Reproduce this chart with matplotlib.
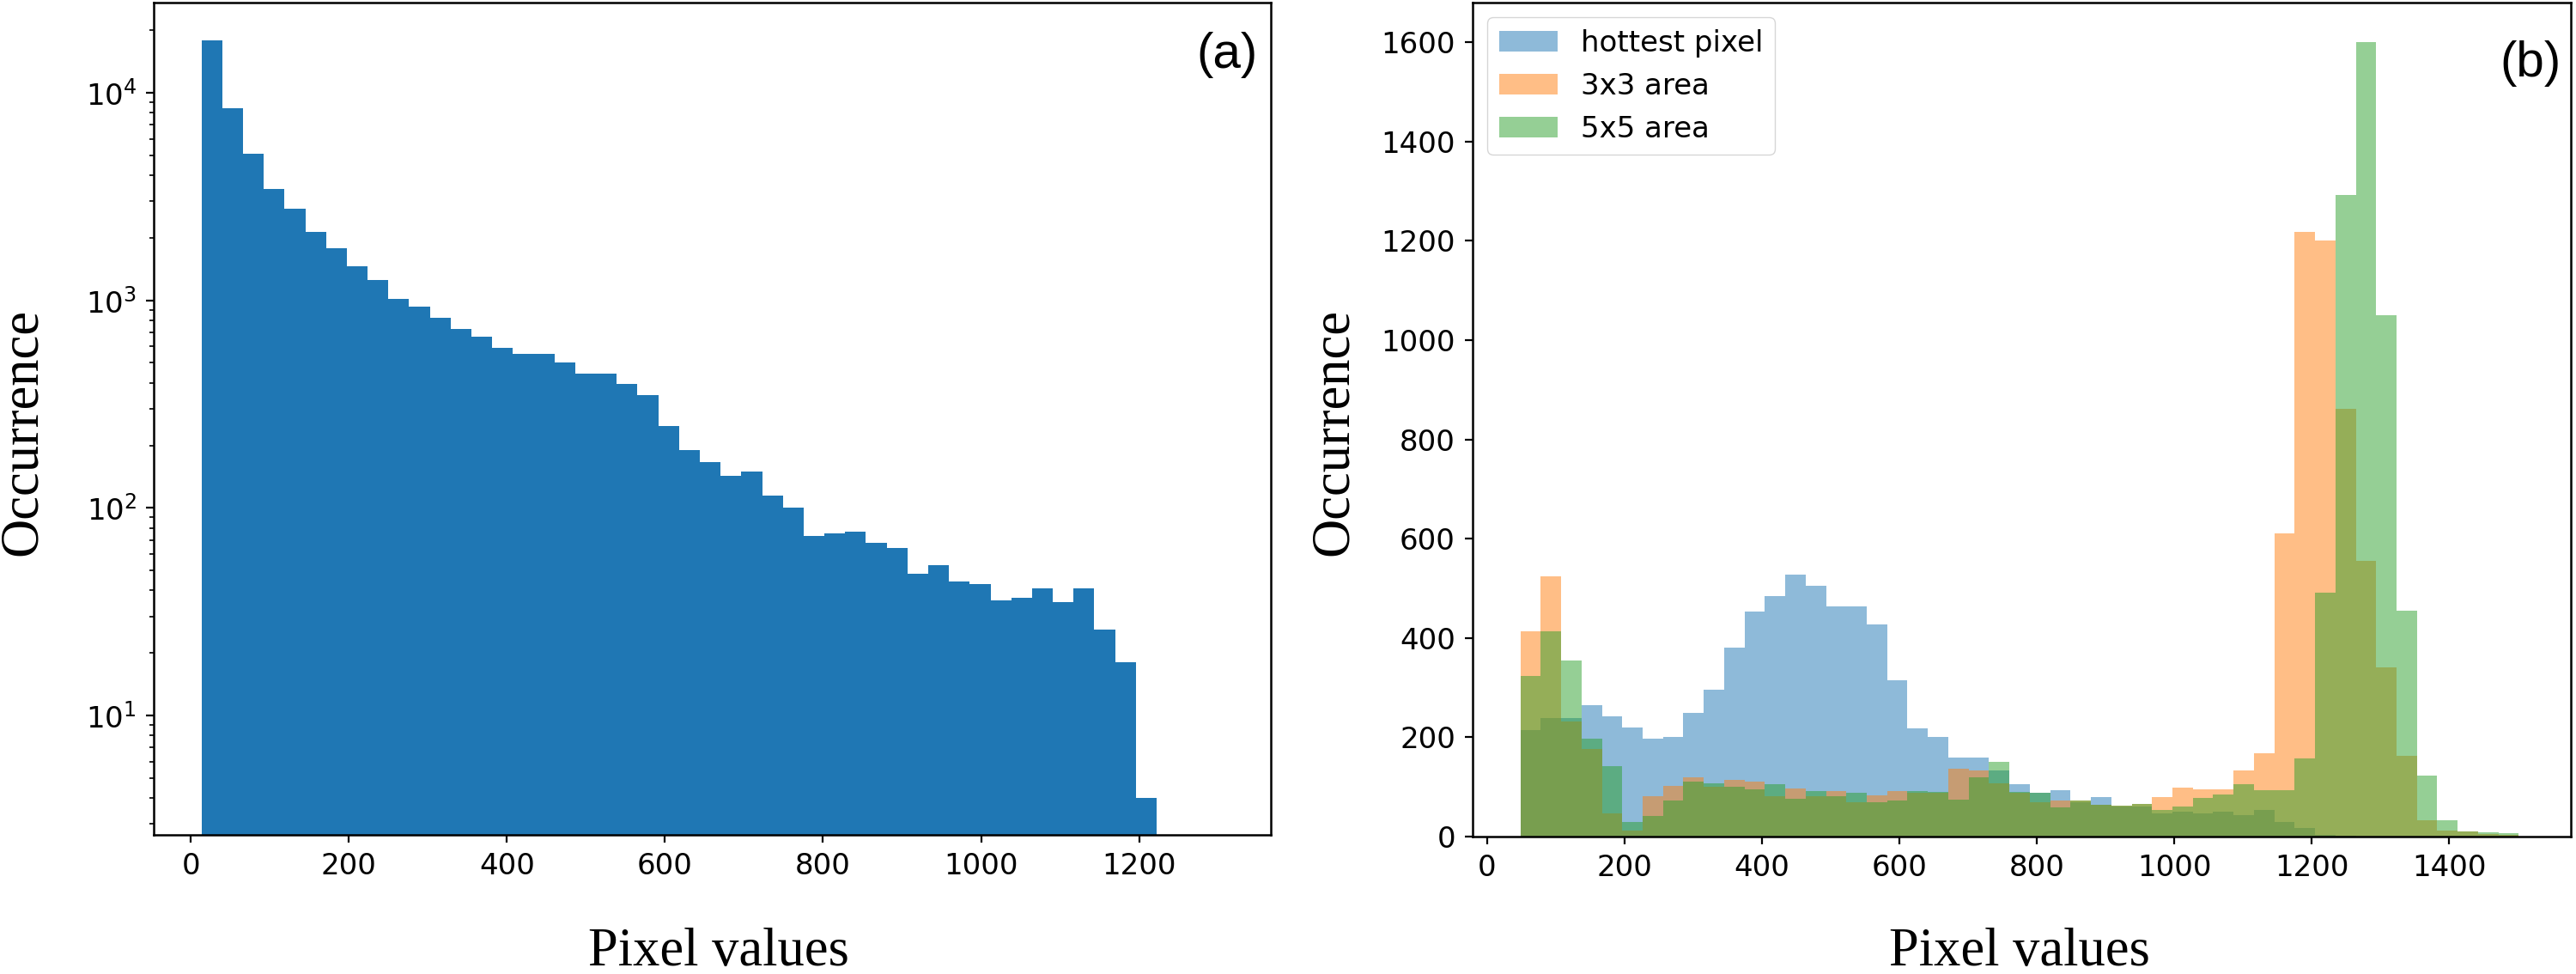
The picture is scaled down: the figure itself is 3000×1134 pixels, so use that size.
import numpy as np
import matplotlib.pyplot as plt

# panel (a): log histogram of pixel values
a_first_edge = 13.4
a_bin_width = 26.28
a_counts = [17800, 8400, 5090, 3430, 2750, 2135, 1782, 1460, 1255, 1012,
            930, 824, 726, 668, 592, 554, 554, 504, 442, 442,
            396, 351, 248, 189, 166, 143, 150, 115, 100, 73,
            75, 77, 68, 64, 48, 53, 44, 43, 36, 37,
            41, 35, 41, 26, 18, 4]

# panel (b): three overlaid histograms on common bins
b_first_edge = 48.4
b_bin_width = 29.65
hottest = [215, 238, 238, 265, 242, 219, 197, 200, 249, 295,
           381, 453, 485, 527, 505, 464, 464, 428, 314, 218,
           200, 159, 160, 134, 106, 88, 93, 70, 79, 60,
           60, 47, 50, 47, 50, 44, 53, 30, 18, 4,
           1, 0, 0, 0, 0, 0, 0, 0, 0]
area3 = [414, 524, 232, 177, 47, 12, 82, 102, 119, 101,
         114, 110, 81, 97, 81, 92, 70, 83, 92, 88,
         88, 137, 134, 108, 88, 70, 73, 72, 64, 62,
         66, 79, 98, 96, 96, 133, 168, 610, 1218, 1201,
         861, 555, 341, 162, 33, 12, 10, 5, 3]
area5 = [323, 414, 355, 197, 142, 30, 41, 73, 110, 107,
         100, 96, 106, 76, 92, 82, 88, 70, 73, 92,
         90, 75, 119, 151, 90, 88, 59, 73, 64, 62,
         66, 53, 60, 77, 85, 105, 93, 93, 157, 492,
         1292, 1601, 1050, 455, 123, 33, 11, 8, 7]
b_labels = ['hottest pixel', '3x3 area', '5x5 area']

a_edges = a_first_edge + a_bin_width*np.arange(len(a_counts)+1)
b_edges = b_first_edge + b_bin_width*np.arange(len(hottest)+1)

tick_fs = 24.5
label_font = 'Liberation Serif'

fig = plt.figure(figsize=(30, 11.34), dpi=100)
ax1 = fig.add_axes([0.0597, 0.1429, 0.4337, 0.8545])
ax2 = fig.add_axes([0.5717, 0.1411, 0.4263, 0.8563])

ax1.hist(a_edges[:-1], bins=a_edges, weights=a_counts, color='tab:blue', log=True)
ax1.set_yscale('log')
ax1.set_ylim(2.66, 27200)
ax1.set_xlim(-47, 1367)
ax1.set_xticks(np.arange(0, 1201, 200))
ax1.text(0.988, 0.965, '(a)', transform=ax1.transAxes, ha='right', va='top',
         fontsize=42, family='Liberation Sans')

colors = ['tab:blue', 'tab:orange', 'tab:green']
for vals, lab, c in zip([hottest, area3, area5], b_labels, colors):
    ax2.hist(b_edges[:-1], bins=b_edges, weights=vals, color=c, alpha=0.5, label=lab)
ax2.set_xlim(-21, 1577)
ax2.set_ylim(0, 1680)
ax2.set_xticks(np.arange(0, 1401, 200))
ax2.set_yticks(np.arange(0, 1601, 200))
ax2.legend(loc='upper left', fontsize=tick_fs, borderaxespad=0.5)
ax2.text(0.991, 0.955, '(b)', transform=ax2.transAxes, ha='right', va='top',
         fontsize=42, family='Liberation Sans')

for ax in (ax1, ax2):
    for s in ax.spines.values():
        s.set_linewidth(1.8)
    ax.tick_params(which='major', labelsize=tick_fs, length=6.5, width=1.6, pad=8)
    ax.tick_params(which='minor', length=3.8, width=1.2)

fig.text(0.009, 0.556, 'Occurrence', rotation=90, ha='center', va='center',
         fontsize=45, family=label_font)
fig.text(0.518, 0.556, 'Occurrence', rotation=90, ha='center', va='center',
         fontsize=45, family=label_font)
fig.text(0.279, 0.009, 'Pixel values', ha='center', va='baseline',
         fontsize=45, family=label_font)
fig.text(0.784, 0.009, 'Pixel values', ha='center', va='baseline',
         fontsize=45, family=label_font)

fig.savefig('out.png', dpi=100)
